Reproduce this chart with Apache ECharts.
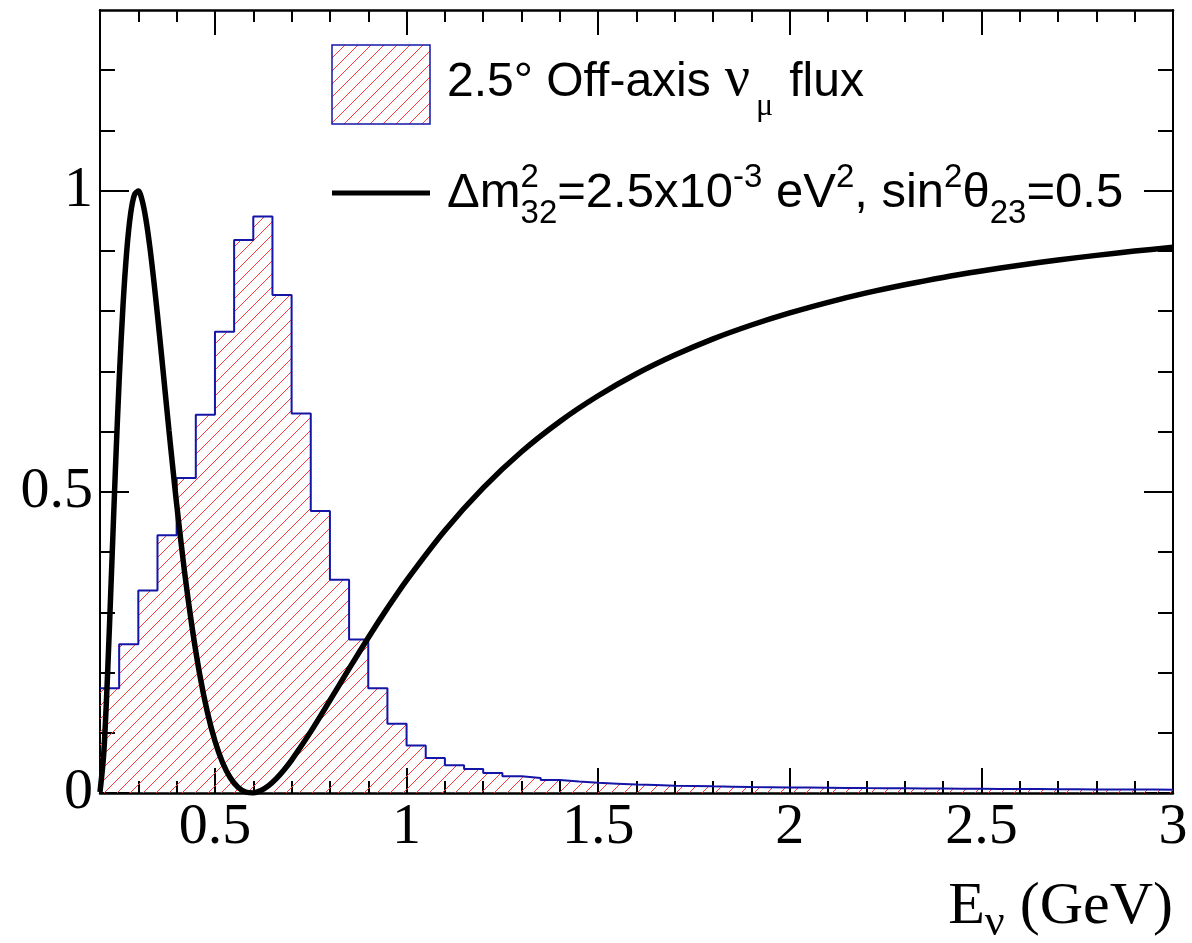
<!DOCTYPE html>
<html><head><meta charset="utf-8">
<script src="https://cdn.jsdelivr.net/npm/echarts@6/dist/echarts.min.js"></script>
<style>html,body{margin:0;padding:0;background:#fff}#c{width:1192px;height:943px}</style>
</head><body><div id="c"></div>
<script>
// ---------------- data ----------------
const binEdges = [0.20,0.25,0.30,0.35,0.40,0.45,0.50,0.55,0.60,0.65,0.70,0.75,0.80,0.85,0.90,0.95,
  1.00,1.05,1.10,1.15,1.20,1.25,1.30,1.35,1.40,1.45,1.50,1.55,1.60,1.65,1.70,1.75,1.80,1.85,1.90,1.95,
  2.00,2.05,2.10,2.15,2.20,2.25,2.30,2.35,2.40,2.45,2.50,2.55,2.60,2.65,2.70,2.75,2.80,2.85,2.90,2.95,3.00];
const fluxValues = [0.174,0.247,0.336,0.428,0.523,0.628,0.766,0.918,0.957,0.827,0.630,0.468,0.354,0.255,0.174,0.115,
  0.079,0.058,0.046,0.040,0.033,0.028,0.025,0.0215,0.019,0.017,0.0155,0.014,0.0133,0.012,0.0116,0.011,0.0105,0.010,0.0097,0.0093,
  0.009,0.0087,0.0085,0.0082,0.008,0.0078,0.0076,0.0074,0.0072,0.007,0.0068,0.0066,0.0065,0.0063,0.0062,0.006,0.0059,0.0058,0.0057,0.0056];
const oscEnergy = [0.20,0.21,0.22,0.23,0.24,0.25,0.26,0.27,0.28,0.29,0.30,0.31,0.32,0.33,0.34,0.35,0.36,0.37,0.38,0.39,0.40,
  0.42,0.44,0.46,0.48,0.50,0.52,0.54,0.56,0.58,0.60,0.62,0.64,0.66,0.68,0.70,0.75,0.80,0.85,0.90,0.95,1.00,
  1.10,1.20,1.30,1.40,1.50,1.60,1.70,1.80,1.90,2.00,2.10,2.20,2.30,2.40,2.50,2.60,2.70,2.80,2.90,3.00];
const oscProb = [0.0016,0.0676,0.2011,0.366,0.5338,0.685,0.809,0.9016,0.9622,0.9935,0.9993,0.9839,0.9518,0.9069,0.853,0.7934,0.7303,0.666,0.6019,0.5398,0.4798,
  0.3702,0.2764,0.1975,0.1348,0.0862,0.0503,0.0253,0.0095,0.0016,0.0002,0.0041,0.0122,0.0238,0.0382,0.0546,0.1019,0.1537,0.2064,0.2579,0.3069,0.3532,
  0.436,0.5067,0.5666,0.6169,0.6595,0.696,0.7271,0.754,0.777,0.7971,0.8147,0.8303,0.8438,0.856,0.8666,0.8763,0.885,0.8926,0.8997,0.906];
const xMajorTicks = [0.5,1,1.5,2,2.5,3];
const xMinorTicks = [0.3,0.4,0.6,0.7,0.8,0.9,1.1,1.2,1.3,1.4,1.6,1.7,1.8,1.9,2.1,2.2,2.3,2.4,2.6,2.7,2.8,2.9];
const yMajorTicks = [0,0.5,1];
const yMinorTicks = [0.1,0.2,0.3,0.4,0.6,0.7,0.8,0.9,1.1,1.2];
const xRange = [0.2, 3];
const yRange = [0, 1.3];

// ---------------- styling helpers ----------------
const SANS = 'Liberation Sans', SERIF = 'Liberation Serif';
const HATCH = '#ff3a3a', BLUE = '#1414a6';

function hatchPattern() {
  const s = 13, c = document.createElement('canvas');
  c.width = s; c.height = s;
  const g = c.getContext('2d');
  g.fillStyle = HATCH;
  for (let i = 0; i < s; i++) g.fillRect(i, s - 1 - i, 1, 1);
  return {image: c, repeat: 'repeat'};
}

const measureCtx = document.createElement('canvas').getContext('2d');
function textRun(segs, x0, baseline, alignRight) {
  let x = 0, lastStart = 0;
  const placed = [];
  for (const s of segs) {
    measureCtx.font = s.size + 'px "' + s.family + '"';
    const w = measureCtx.measureText(s.t).width;
    let sx;
    if (s.stack) { sx = lastStart; x = Math.max(x, sx + w); }
    else { sx = x + (s.gap || 0); x = sx + w; lastStart = sx; }
    placed.push({s, sx});
  }
  const off = alignRight ? x0 - x : x0;
  return placed.map(({s, sx}) => ({
    type: 'text', x: off + sx, y: baseline + (s.dy || 0) - 0.34 * s.size, silent: true,
    style: {text: s.t, fontSize: s.size, fontFamily: s.family, fill: '#000', verticalAlign: 'middle', align: 'left'}
  }));
}

const histData = binEdges.map((e, i) => [e, fluxValues[Math.min(i, fluxValues.length - 1)]]);
const oscData = oscEnergy.map((e, i) => [e, oscProb[i]]);
const pattern = hatchPattern();

function xAxisDef(pos, ticks, len, showLine, showLabels) {
  return {
    type: 'value', position: pos, min: xRange[0], max: xRange[1],
    splitLine: {show: false},
    axisLine: {show: showLine, onZero: false, lineStyle: {color: '#000', width: 2.5}},
    axisTick: {show: true, inside: true, length: len, customValues: ticks, lineStyle: {color: '#000', width: 2}},
    axisLabel: {show: showLabels, customValues: ticks, margin: 6, color: '#000', fontFamily: SERIF, fontSize: 58}
  };
}
function yAxisDef(pos, ticks, len, showLine, showLabels) {
  return {
    type: 'value', position: pos, min: yRange[0], max: yRange[1],
    splitLine: {show: false},
    axisLine: {show: showLine, onZero: false, lineStyle: {color: '#000', width: 2}},
    axisTick: {show: true, inside: true, length: len, customValues: ticks, lineStyle: {color: '#000', width: 2}},
    axisLabel: {show: showLabels, customValues: ticks, margin: 7, color: '#000', fontFamily: SERIF, fontSize: 58}
  };
}

const legendLine1 = [
  {t: '2.5° Off-axis', size: 48, family: SANS},
  {t: 'ν', size: 56, family: SERIF, gap: 14},
  {t: 'μ', size: 32, family: SERIF, dy: 18, gap: 6},
  {t: 'flux', size: 48, family: SANS, gap: 16}
];
const legendLine2 = [
  {t: 'Δm', size: 49, family: SANS},
  {t: '2', size: 33, family: SANS, dy: -21},
  {t: '32', size: 33, family: SANS, dy: 15, stack: true},
  {t: '=2.5x10', size: 49, family: SANS},
  {t: '-3', size: 33, family: SANS, dy: -21},
  {t: ' eV', size: 49, family: SANS},
  {t: '2', size: 33, family: SANS, dy: -21},
  {t: ', sin', size: 49, family: SANS},
  {t: '2', size: 33, family: SANS, dy: -21},
  {t: 'θ', size: 49, family: SANS},
  {t: '23', size: 33, family: SANS, dy: 15},
  {t: '=0.5', size: 49, family: SANS}
];
const axisTitle = [
  {t: 'E', size: 60, family: SERIF},
  {t: 'ν', size: 44, family: SERIF, dy: 10},
  {t: ' (GeV)', size: 60, family: SERIF}
];

const chart = echarts.init(document.getElementById('c'), null, {renderer: 'canvas'});
chart.setOption({
  animation: false,
  backgroundColor: '#fff',
  grid: {left: 100, right: 19, top: 10, bottom: 150},
  xAxis: [
    xAxisDef('bottom', xMajorTicks, 25, true, true),
    xAxisDef('bottom', xMinorTicks, 12, false, false),
    xAxisDef('top', xMajorTicks, 25, true, false),
    xAxisDef('top', xMinorTicks, 12, false, false)
  ],
  yAxis: [
    yAxisDef('left', yMajorTicks, 29, true, true),
    yAxisDef('left', yMinorTicks, 15, false, false),
    yAxisDef('right', yMajorTicks, 29, true, false),
    yAxisDef('right', yMinorTicks, 15, false, false)
  ],
  series: [
    {
      name: 'flux', type: 'line', step: 'end', data: histData, showSymbol: false,
      xAxisIndex: 0, yAxisIndex: 0,
      lineStyle: {color: BLUE, width: 2},
      areaStyle: {color: pattern, opacity: 1},
      z: 2
    },
    {
      name: 'osc', type: 'line', data: oscData, showSymbol: false, smooth: 0.3,
      xAxisIndex: 0, yAxisIndex: 0,
      lineStyle: {color: '#000', width: 5.5},
      z: 3
    }
  ],
  graphic: [
    {type: 'rect', shape: {x: 332, y: 45, width: 98, height: 79}, silent: true,
     style: {fill: pattern, stroke: BLUE, lineWidth: 1.5}},
    {type: 'line', shape: {x1: 332, y1: 193, x2: 430, y2: 193}, silent: true,
     style: {stroke: '#000', lineWidth: 5}},
    ...textRun(legendLine1, 447, 99, false),
    ...textRun(legendLine2, 447, 210, false),
    ...textRun(axisTitle, 1173, 928, true)
  ]
});
</script>
</body></html>
